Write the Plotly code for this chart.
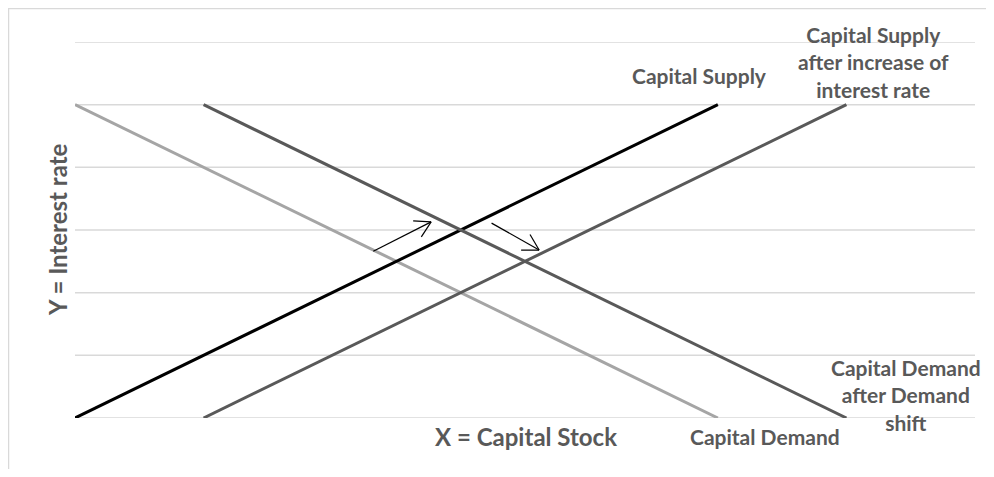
import math
import plotly.graph_objects as go

# Line endpoints (x = capital stock, y = interest rate)
demand_x = [0, 5]
demand_y = [5, 0]
supply_x = [0, 5]
supply_y = [0, 5]
supply_shift_x = [1, 6]
supply_shift_y = [0, 5]
demand_shift_x = [1, 6]
demand_shift_y = [5, 0]

# Arrows: tail -> head
arrow_tail_x = [2.32, 3.24]
arrow_tail_y = [2.66, 3.11]
arrow_head_x = [2.77, 3.61]
arrow_head_y = [3.13, 2.68]

grid_y = [0, 1, 2, 3, 4, 5, 6]

txt = "#595959"
fnt = "Lato"
font = dict(family=fnt, size=21, color=txt)

# plot area in pixels, used to draw open arrow heads with correct angles
PW, PH = 900, 376
XR, YR = 7, 6.0
px_x = PW / XR
px_y = PH / YR

fig = go.Figure()
fig.add_trace(go.Scatter(x=demand_x, y=demand_y, mode="lines",
                         line=dict(color="#A5A5A5", width=3), name="Capital Demand"))
fig.add_trace(go.Scatter(x=supply_x, y=supply_y, mode="lines",
                         line=dict(color="#000000", width=3), name="Capital Supply"))
fig.add_trace(go.Scatter(x=supply_shift_x, y=supply_shift_y, mode="lines",
                         line=dict(color="#595959", width=3), name="Capital Supply after"))
fig.add_trace(go.Scatter(x=demand_shift_x, y=demand_shift_y, mode="lines",
                         line=dict(color="#595959", width=3), name="Capital Demand after"))

# arrows with open V heads
for tx, ty, hx, hy in zip(arrow_tail_x, arrow_tail_y, arrow_head_x, arrow_head_y):
    ang = math.atan2((hy - ty) * px_y, (hx - tx) * px_x)
    xs = [tx, hx, None]
    ys = [ty, hy, None]
    for d in (math.radians(150), math.radians(-150)):
        xs += [hx + 18 * math.cos(ang + d) / px_x, hx, None]
        ys += [hy + 18 * math.sin(ang + d) / px_y, hy, None]
    fig.add_trace(go.Scatter(x=xs, y=ys, mode="lines", line=dict(color="#000000", width=1.2),
                             hoverinfo="skip"))

fig.add_annotation(x=4.86, y=5.46, text="<b>Capital Supply</b>", showarrow=False, font=font)
fig.add_annotation(x=6.21, y=5.68, text="<b>Capital Supply<br>after increase of<br>interest rate</b>",
                   showarrow=False, font=font)
fig.add_annotation(x=6.46, y=0.37, text="<b>Capital Demand<br>after Demand<br>shift</b>",
                   showarrow=False, font=font)
fig.add_annotation(x=0.767, y=-0.0505, xref="paper", yref="paper", xanchor="center",
                   yanchor="middle", text="<b>Capital Demand</b>", showarrow=False, font=font)
fig.add_annotation(x=0.501, y=-0.0505, xref="paper", yref="paper", xanchor="center",
                   yanchor="middle", text="<b>X = Capital Stock</b>", showarrow=False,
                   font=dict(family=fnt, size=24, color=txt))
fig.add_annotation(x=-0.02, y=0.5, xref="paper", yref="paper", xanchor="center",
                   yanchor="middle", text="<b>Y = Interest rate</b>",
                   textangle=-90, showarrow=False, font=dict(family=fnt, size=24, color=txt))

shapes = [dict(type="line", xref="paper", yref="y", x0=0, x1=1, y0=g, y1=g,
               line=dict(color="#D9D9D9", width=1.5), layer="below") for g in grid_y]
shapes.append(dict(type="rect", xref="paper", yref="paper", x0=-0.0739, x1=1.2, y0=-0.3, y1=1.089,
                   line=dict(color="#D9D9D9", width=1.5), layer="below"))

fig.update_layout(
    width=978, height=461,
    margin=dict(l=67, r=11, t=34, b=51),
    paper_bgcolor="white", plot_bgcolor="white",
    showlegend=False,
    xaxis=dict(range=[0, XR], showgrid=False, zeroline=False, showticklabels=False,
               showline=False, ticks=""),
    yaxis=dict(range=[0, YR], showgrid=False, zeroline=False, showticklabels=False, ticks=""),
    shapes=shapes,
)

fig.write_html("out.html")
